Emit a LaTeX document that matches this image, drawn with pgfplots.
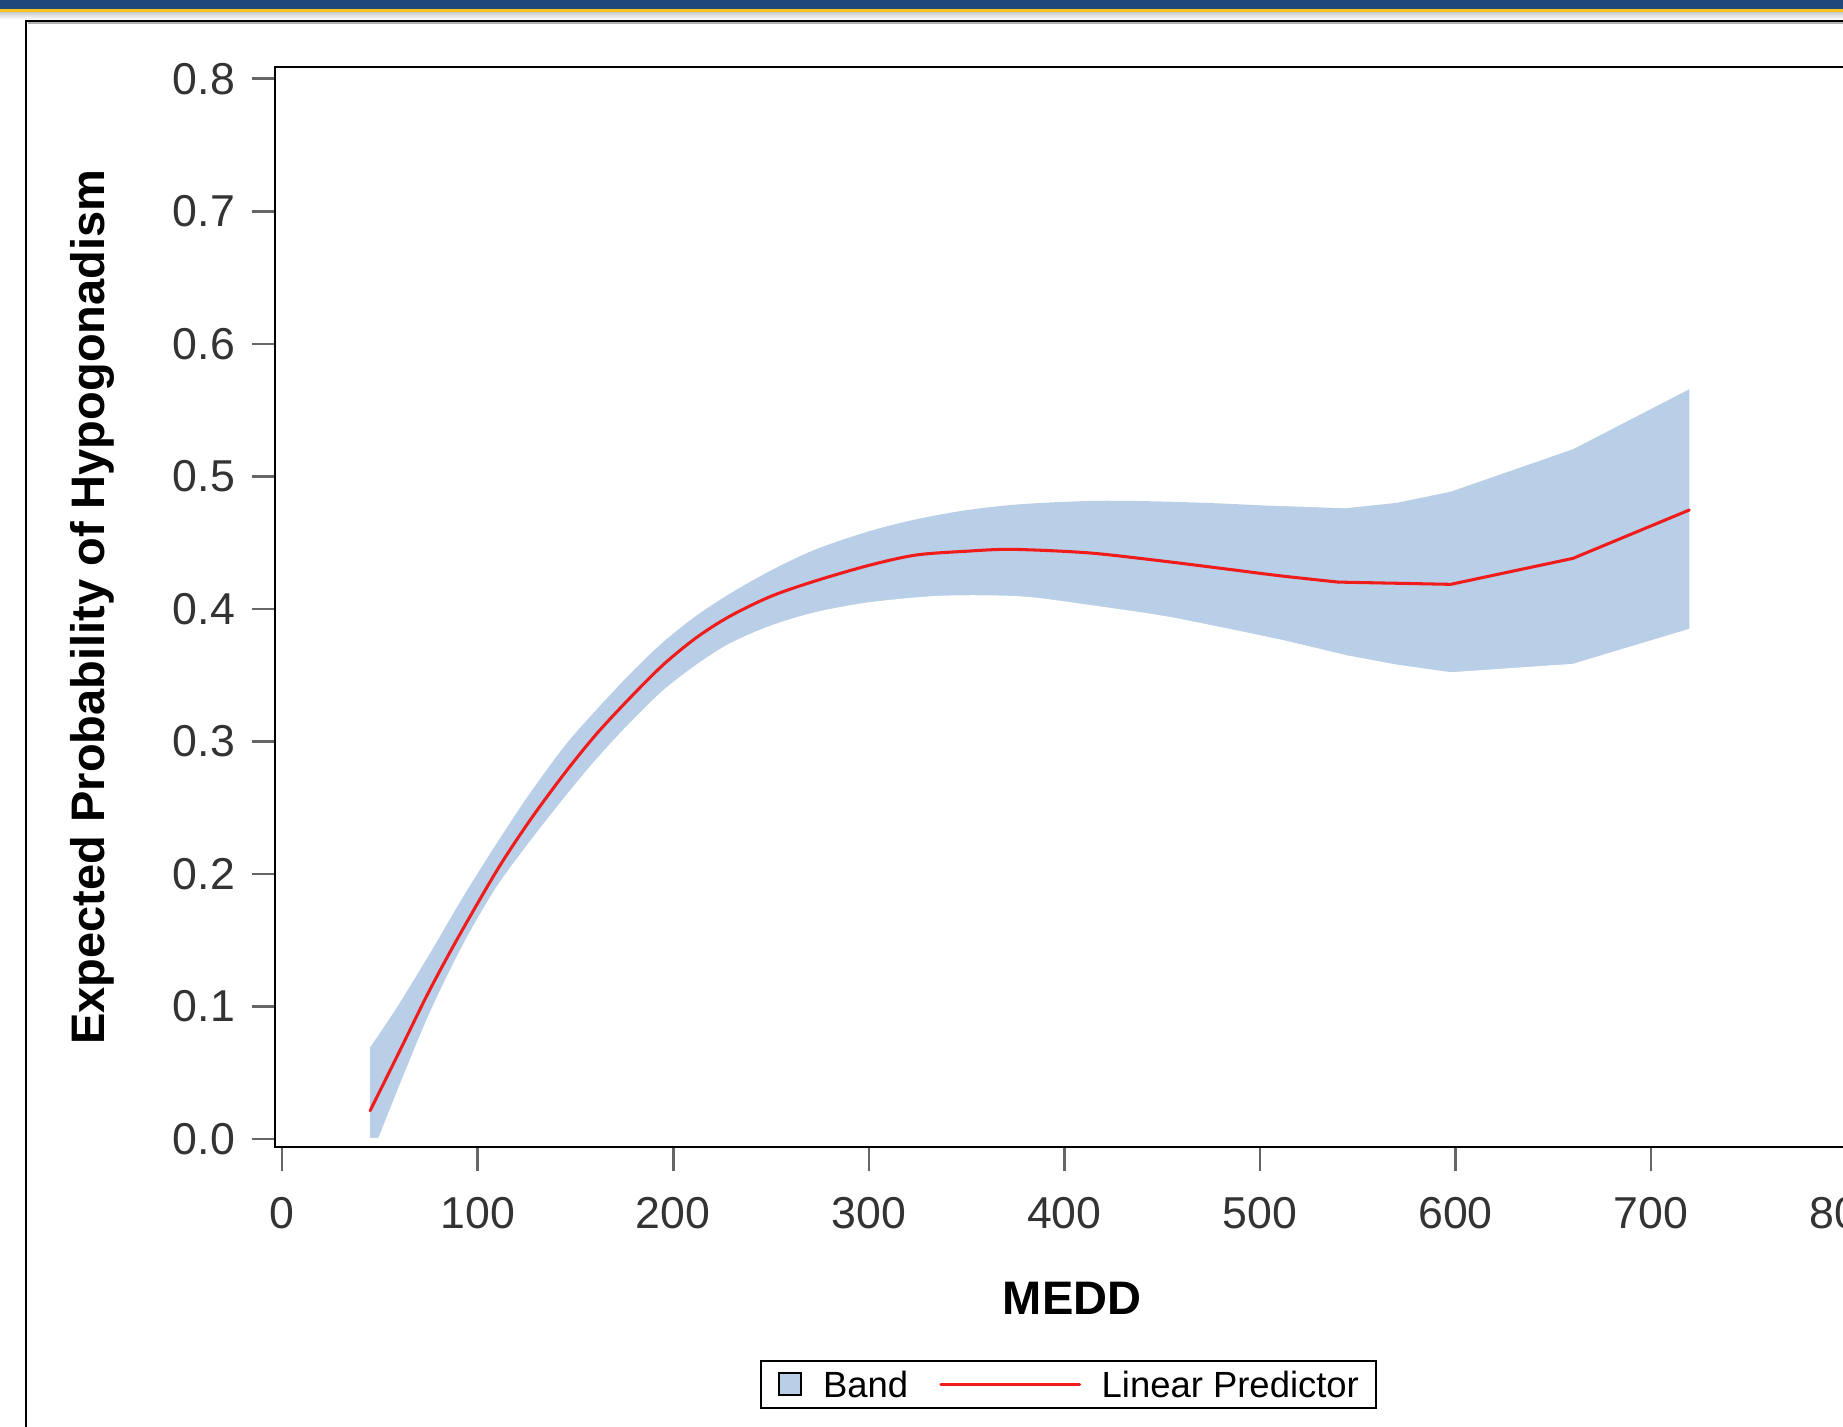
\documentclass[border=0pt]{standalone}
\usepackage{fontspec}
\setmainfont{Liberation Sans}
\usepackage{pgfplots}
\pgfplotsset{compat=1.18}
\definecolor{bandblue}{RGB}{185,207,231}
\definecolor{fitred}{RGB}{240,28,28}
\definecolor{headblue}{RGB}{31,73,125}
\definecolor{headyellow}{RGB}{242,196,29}
\pgfplotsset{
  bandlegend/.style={legend image code/.code={\draw[fill=bandblue, draw=black, line width=0.45pt] (0pt,-2.375pt) rectangle (4.75pt,2.375pt);}},
  linelegend/.style={legend image code/.code={\draw[fitred, line width=0.65pt] (0pt,0pt) -- (29.5pt,0pt);}}
}
\begin{document}
\begin{tikzpicture}
\useasboundingbox (0,0) rectangle (392pt,303.5pt);
\clip (0,0) rectangle (392pt,303.5pt);
\fill[white] (0,0) rectangle (392pt,303.5pt);
\fill[headblue] (0,301.55pt) rectangle (392pt,303.5pt);
\fill[headyellow] (0,300.9pt) rectangle (392pt,301.55pt);
\shade[top color=gray!40, bottom color=white] (0,299.4pt) rectangle (392pt,300.9pt);
\draw[black, line width=0.5pt] (5.5pt,0) -- (5.5pt,299.05pt) -- (392pt,299.05pt);
\draw[gray!60, line width=0.35pt] (5.9pt,298.6pt) -- (392pt,298.6pt);
\begin{axis}[
  at={(58.5pt,59.5pt)}, anchor=south west,
  scale only axis, width=339.08pt, height=229.75pt,
  xmin=-3.606, xmax=811.5, ymin=-0.0062, ymax=0.8089,
  axis on top,
  xtick={0,100,200,300,400,500,600,700,800},
  ytick={0,0.1,0.2,0.3,0.4,0.5,0.6,0.7,0.8},
  xtick pos=bottom, ytick pos=left, tick align=outside,
  major tick length=5pt,
  tick style={black!60, line width=0.55pt},
  axis line style={black, line width=0.5pt},
  /pgf/number format/assume math mode=true,
  scaled y ticks=false,
  yticklabel style={/pgf/number format/fixed, /pgf/number format/fixed zerofill, /pgf/number format/precision=1},
  xticklabel style={yshift=-2.1pt},
  ticklabel style={font=\fontsize{9.5}{11}\selectfont, text=black!80},
  xlabel={MEDD}, ylabel={Expected Probability of Hypogonadism},
  label style={font=\bfseries\fontsize{10}{12}\selectfont},
  xlabel style={at={(axis description cs:0.5,-0.1545)}, anchor=base},
  ylabel style={at={(axis description cs:-0.1069,0.5)}, anchor=base},
  legend columns=2,
  legend style={at={(axis description cs:0.4977,-0.2193)}, anchor=center,
    draw=black, line width=0.45pt, inner xsep=3.6pt, inner ysep=2.2pt,
    font=\fontsize{7.75}{9}\selectfont,
    nodes={inner sep=0pt, text height=5.6pt, text depth=0pt},
    /tikz/every odd column/.append style={column sep=4.4pt},
    /tikz/every even column/.append style={column sep=6.6pt}},
]
% upper limit of the band (filled down to zero)
\addplot[fill=bandblue, draw=none, smooth, bandlegend] coordinates {
(45,0.069) (58.6,0.099) (75.6,0.140) (92.7,0.183) (109.7,0.223) (126.8,0.261)
(145,0.2975) (160.8,0.324) (178,0.351) (194.9,0.375) (212,0.395) (229,0.4115)
(250,0.429) (272.5,0.4447) (300,0.4585) (324,0.4675) (350,0.4745) (378,0.479)
(415,0.4815) (450,0.481) (480,0.4795) (510,0.4775) (543,0.4758)
} \closedcycle;
\addplot[fill=bandblue, draw=none, forget plot] coordinates {
(510,0.4775) (543,0.4758) (570,0.4800) (597.5,0.4884) (660,0.5204) (719.5,0.5657)
} \closedcycle;
% lower limit of the band (area below it left white)
\addplot[fill=white, draw=white, line width=0.5pt, smooth, forget plot] coordinates {
(45,-0.018) (58.6,0.033) (75.6,0.0935) (92.7,0.1454) (109.7,0.1887) (126.8,0.2233)
(145,0.2575) (160.8,0.2855) (178,0.313) (194.9,0.3374) (212,0.357) (229,0.373)
(250,0.3865) (272.5,0.3965) (300,0.404) (337,0.409) (378,0.4085) (415,0.4016)
(450,0.394) (480,0.3853) (510,0.376) (543,0.3644)
} \closedcycle;
\addplot[fill=white, draw=white, line width=0.5pt, forget plot] coordinates {
(510,0.376) (543,0.3644) (570,0.357) (597.5,0.3513) (660,0.3576) (719.5,0.384)
} \closedcycle;
% linear predictor
\addplot[fitred, line width=0.65pt, line cap=round, line join=round, smooth, linelegend] coordinates {
(45,0.0213) (60,0.066) (75,0.111) (90,0.152) (110,0.203) (127,0.241)
(145,0.277) (161,0.306) (178,0.333) (195,0.358) (212,0.3785) (229,0.3945)
(250,0.4095) (272.5,0.421) (300,0.4328) (324,0.4406) (350,0.4435) (373,0.4449)
(411,0.4424) (445,0.437) (480,0.4306) (510,0.425) (540,0.4202)
};
\addplot[fitred, line width=0.65pt, line cap=round, line join=round, forget plot] coordinates {
(540,0.4202) (597.5,0.4185) (660,0.4381) (719.5,0.4746)
};
\legend{Band, Linear Predictor}
\end{axis}
\end{tikzpicture}
\end{document}
